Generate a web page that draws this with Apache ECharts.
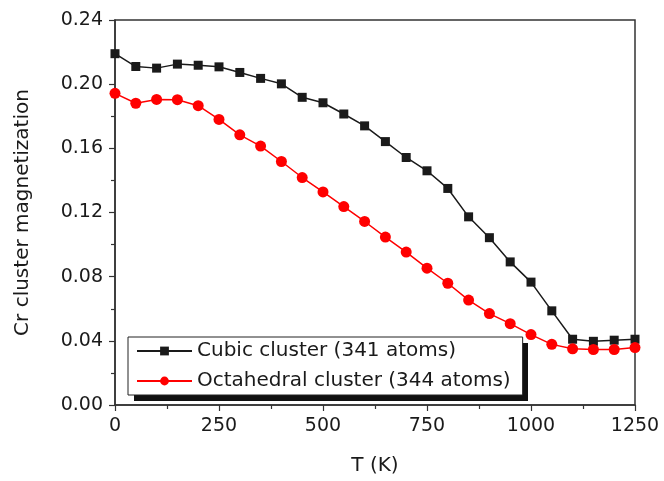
<!DOCTYPE html>
<html>
<head>
<meta charset="utf-8">
<script src="https://cdn.jsdelivr.net/npm/echarts@6/dist/echarts.min.js"></script>
<style>
  html, body { margin: 0; padding: 0; background: #fff; }
  #chart { width: 664px; height: 481px; }
</style>
</head>
<body>
<div id="chart"></div>
<script>
// Temperature grid (K)
const temperatures = [0, 50, 100, 150, 200, 250, 300, 350, 400, 450, 500, 550, 600,
  650, 700, 750, 800, 850, 900, 950, 1000, 1050, 1100, 1150, 1200, 1250];

// Cr cluster magnetization per temperature
const cubicMag = [0.219, 0.211, 0.210, 0.2125, 0.2118, 0.2108, 0.2073, 0.2036, 0.2002,
  0.1918, 0.1884, 0.1814, 0.1740, 0.1642, 0.1543, 0.1460, 0.1350, 0.1173, 0.1043,
  0.0892, 0.0766, 0.0587, 0.0410, 0.0397, 0.0404, 0.0410];
const octaMag = [0.1943, 0.1881, 0.1905, 0.1903, 0.1866, 0.1780, 0.1684, 0.1614, 0.1518,
  0.1418, 0.1328, 0.1237, 0.1144, 0.1047, 0.0953, 0.0853, 0.0759, 0.0654, 0.0570,
  0.0507, 0.0439, 0.0378, 0.0350, 0.0346, 0.0346, 0.0358];

const seriesNames = ['Cubic cluster (341 atoms)', 'Octahedral cluster (344 atoms)'];

const xTicks = { min: 0, max: 1250, interval: 250 };
const yTicks = { min: 0, max: 0.24, interval: 0.04 };

const FONT = 'DejaVu Sans';
const ink = '#1a1a1a';
const axisColor = '#333';

// Legend box placement and its solid drop shadow
const legendBox = { left: 128, top: 337, width: 394, height: 58 };
const shadowOffset = 6;

const pairs = (xs, ys) => xs.map((x, i) => [x, ys[i]]);

const chart = echarts.init(document.getElementById('chart'), null, { renderer: 'canvas' });

chart.setOption({
  animation: false,
  backgroundColor: '#fff',
  grid: {
    left: 115, right: 29, top: 20, bottom: 76,
    show: true, borderColor: axisColor, borderWidth: 1.5, backgroundColor: 'transparent'
  },
  xAxis: {
    type: 'value',
    min: xTicks.min, max: xTicks.max, interval: xTicks.interval,
    name: 'T (K)', nameLocation: 'middle', nameGap: 51,
    nameTextStyle: { fontFamily: FONT, fontSize: 20, color: ink },
    axisLine: { show: true, lineStyle: { color: axisColor, width: 1.5 } },
    axisTick: { show: true, inside: false, length: 6, lineStyle: { color: axisColor, width: 1.2 } },
    minorTick: { show: true, splitNumber: 2, length: 4, lineStyle: { color: axisColor, width: 1.2 } },
    splitLine: { show: false },
    axisLabel: {
      fontFamily: FONT, fontSize: 19, color: ink, margin: 12,
      formatter: v => String(v)
    }
  },
  yAxis: {
    type: 'value',
    min: yTicks.min, max: yTicks.max, interval: yTicks.interval,
    name: 'Cr cluster magnetization', nameLocation: 'middle', nameGap: 82,
    nameTextStyle: { fontFamily: FONT, fontSize: 20, color: ink },
    axisLine: { show: true, lineStyle: { color: axisColor, width: 1.5 } },
    axisTick: { show: true, inside: false, length: 6, lineStyle: { color: axisColor, width: 1.2 } },
    minorTick: { show: true, splitNumber: 2, length: 4, lineStyle: { color: axisColor, width: 1.2 } },
    splitLine: { show: false },
    axisLabel: {
      fontFamily: FONT, fontSize: 19, color: ink, margin: 12,
      formatter: v => v.toFixed(2)
    }
  },
  graphic: [{
    type: 'rect',
    z: 5,
    silent: true,
    shape: {
      x: legendBox.left + shadowOffset, y: legendBox.top + shadowOffset,
      width: legendBox.width, height: legendBox.height
    },
    style: { fill: '#111' }
  }],
  legend: {
    z: 6,
    orient: 'vertical',
    left: legendBox.left, top: legendBox.top,
    padding: [2, 12, 2, 8],
    itemGap: 6,
    itemWidth: 55, itemHeight: 11,
    backgroundColor: '#fff',
    borderColor: '#222', borderWidth: 1,
    textStyle: { fontFamily: FONT, fontSize: 20, color: ink, lineHeight: 24 },
    data: seriesNames
  },
  series: [
    {
      name: seriesNames[0],
      type: 'line',
      data: pairs(temperatures, cubicMag),
      symbol: 'rect', symbolSize: 9,
      itemStyle: { color: '#1a1a1a' },
      lineStyle: { color: '#1a1a1a', width: 1.5 },
      z: 3
    },
    {
      name: seriesNames[1],
      type: 'line',
      data: pairs(temperatures, octaMag),
      symbol: 'circle', symbolSize: 11,
      itemStyle: { color: '#ff0000' },
      lineStyle: { color: '#ff0000', width: 1.5 },
      z: 4
    }
  ]
});
</script>
</body>
</html>
